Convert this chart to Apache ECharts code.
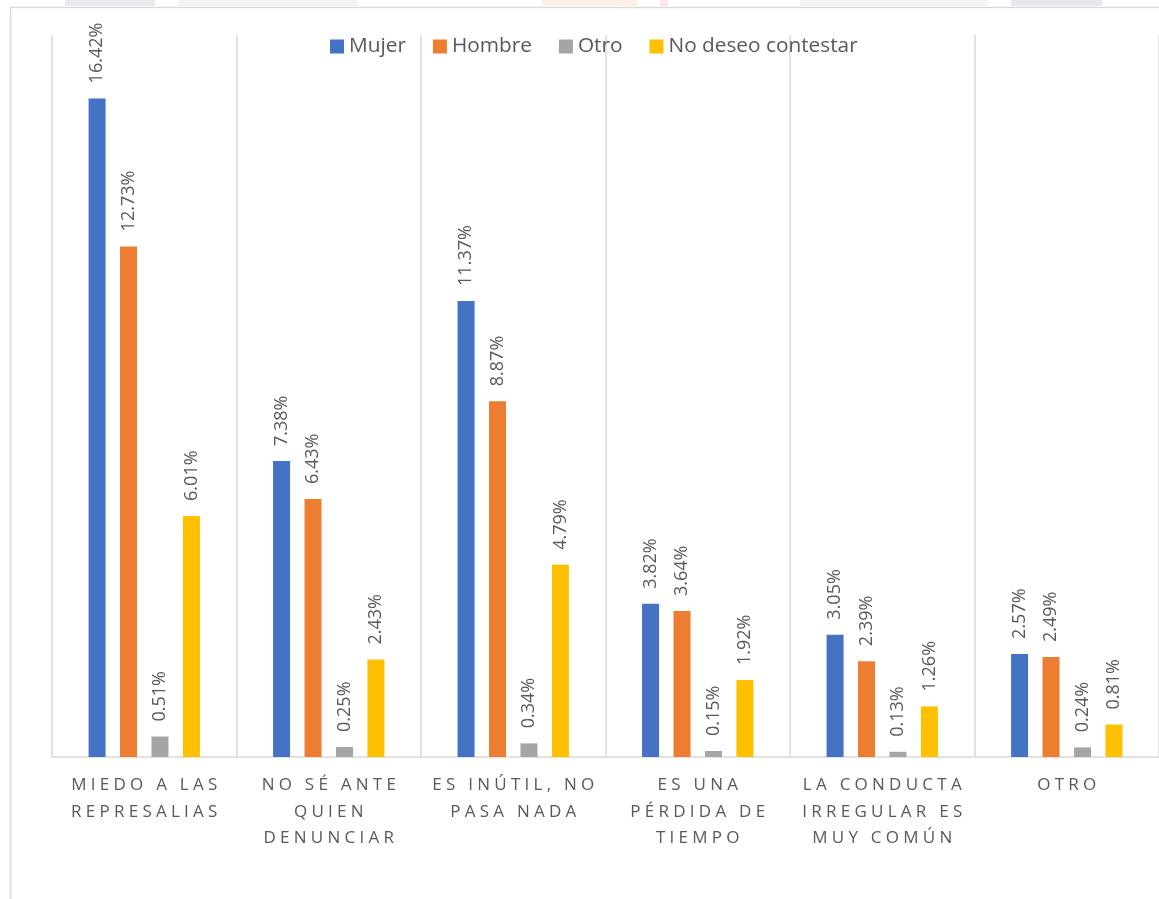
<!DOCTYPE html>
<html>
<head>
<meta charset="utf-8">
<script src="https://cdn.jsdelivr.net/npm/echarts@6/dist/echarts.min.js"></script>
<style>
  html, body { margin: 0; padding: 0; background: #ffffff; }
  #chart { width: 1159px; height: 899px; }
</style>
</head>
<body>
<div id="chart"></div>
<script>
// Motivos para no denunciar, por sexo (% de respuestas)
const categories = [
  'MIEDO A LAS\nREPRESALIAS',
  'NO SÉ ANTE\nQUIEN\nDENUNCIAR',
  'ES INÚTIL, NO\nPASA NADA',
  'ES UNA\nPÉRDIDA DE\nTIEMPO',
  'LA CONDUCTA\nIRREGULAR ES\nMUY COMÚN',
  'OTRO'
];
const seriesNames = ['Mujer', 'Hombre', 'Otro', 'No deseo contestar'];
const mujer   = [16.42, 7.38, 11.37, 3.82, 3.05, 2.57];
const hombre  = [12.73, 6.43, 8.87, 3.64, 2.39, 2.49];
const otro    = [0.51, 0.25, 0.34, 0.15, 0.13, 0.24];
const noDeseo = [6.01, 2.43, 4.79, 1.92, 1.26, 0.81];
const colors  = ['#4472C4', '#ED7D31', '#A5A5A5', '#FFC000'];

const FONT = '"Open Sans", sans-serif';
const TEXT = '#595959';
const LINE = '#d9d9d9';

// widen the tracking of the category labels with quarter-em spaces
function spaced(label) {
  return label.split('\n')
    .map(line => Array.from(line).join('\u2005'))
    .join('\n');
}

function barSeries(name, data, color) {
  return {
    name: name,
    type: 'bar',
    data: data,
    barWidth: 17,
    barGap: '85%',
    itemStyle: { color: color },
    label: {
      show: true,
      position: 'top',
      rotate: 90,
      align: 'left',
      verticalAlign: 'middle',
      distance: 15,
      color: TEXT,
      fontFamily: FONT,
      fontSize: 18,
      formatter: p => p.value.toFixed(2) + '%'
    }
  };
}

const chart = echarts.init(document.getElementById('chart'), null, { renderer: 'canvas' });

chart.setOption({
  animation: false,
  backgroundColor: '#ffffff',
  graphic: [
    // faint strip along the top edge
    { type: 'rect', shape: { x: 65, y: 0, width: 90, height: 6 }, style: { fill: '#e9e9ee' }, silent: true },
    { type: 'rect', shape: { x: 178, y: 0, width: 180, height: 6 }, style: { fill: '#f4f4f6' }, silent: true },
    { type: 'rect', shape: { x: 542, y: 0, width: 95, height: 6 }, style: { fill: '#fdf0e8' }, silent: true },
    { type: 'rect', shape: { x: 660, y: 0, width: 8, height: 6 }, style: { fill: '#fbe6ea' }, silent: true },
    { type: 'rect', shape: { x: 800, y: 0, width: 188, height: 6 }, style: { fill: '#f4f4f6' }, silent: true },
    { type: 'rect', shape: { x: 1011, y: 0, width: 91, height: 6 }, style: { fill: '#e7e7ec' }, silent: true },
    // chart area frame
    { type: 'rect', shape: { x: 10.5, y: 7.5, width: 1300, height: 1000 },
      style: { fill: 'none', stroke: LINE, lineWidth: 1.5 }, silent: true }
  ],
  legend: {
    data: seriesNames,
    left: 330,
    top: 36,
    padding: 0,
    icon: 'rect',
    itemWidth: 14,
    itemHeight: 14,
    itemGap: 27,
    textStyle: { color: TEXT, fontFamily: FONT, fontSize: 20.8 }
  },
  grid: { left: 52, top: 35, width: 1110, bottom: 142, containLabel: false },
  xAxis: {
    type: 'category',
    data: categories,
    boundaryGap: true,
    axisLine: { show: true, lineStyle: { color: LINE, width: 1.5 } },
    axisTick: { show: false },
    splitLine: { show: true, interval: 0, lineStyle: { color: LINE, width: 1.5 } },
    axisLabel: {
      interval: 0,
      margin: 15,
      color: TEXT,
      fontFamily: FONT,
      fontSize: 17,
      lineHeight: 26.5,
      formatter: v => spaced(v)
    }
  },
  yAxis: {
    type: 'value',
    min: 0,
    max: 18,
    show: false,
    splitLine: { show: false }
  },
  series: [
    barSeries(seriesNames[0], mujer, colors[0]),
    barSeries(seriesNames[1], hombre, colors[1]),
    barSeries(seriesNames[2], otro, colors[2]),
    barSeries(seriesNames[3], noDeseo, colors[3])
  ]
});
</script>
</body>
</html>
